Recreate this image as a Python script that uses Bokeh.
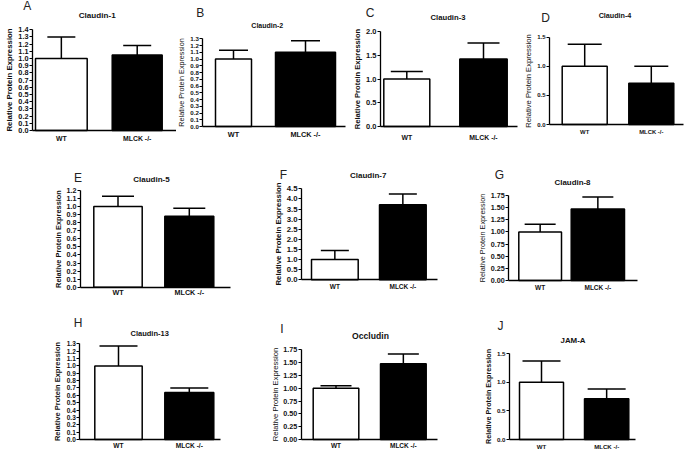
import numpy as np
from bokeh.plotting import figure
from bokeh.models import (Range1d, FixedTicker, PrintfTickFormatter, ColumnDataSource,
                          Whisker, TeeHead, Label)
from bokeh.layouts import row, column
from bokeh.embed import file_html
from bokeh.resources import INLINE

# ---------------- data ----------------
panel_letters = ["A", "B", "C", "D", "E", "F", "G", "H", "I", "J"]
proteins = ["Claudin-1", "Claudin-2", "Claudin-3", "Claudin-4", "Claudin-5",
            "Claudin-7", "Claudin-8", "Claudin-13", "Occludin", "JAM-A"]
groups = ["WT", "MLCK -/-"]
wt_mean = [1.00, 1.00, 1.00, 1.00, 1.00, 1.00, 1.00, 1.00, 1.00, 1.00]
wt_sem = [0.30, 0.13, 0.16, 0.38, 0.13, 0.45, 0.16, 0.27, 0.05, 0.37]
ko_mean = [1.05, 1.10, 1.42, 0.71, 0.88, 3.71, 1.47, 0.64, 1.48, 0.71]
ko_sem = [0.13, 0.17, 0.34, 0.29, 0.10, 0.53, 0.25, 0.06, 0.19, 0.17]
y_max = [1.4, 1.3, 2.0, 1.5, 1.2, 4.5, 1.75, 1.3, 1.75, 1.5]
y_step = [0.1, 0.1, 0.5, 0.5, 0.1, 0.5, 0.25, 0.1, 0.25, 0.5]
y_decimals = [1, 1, 1, 1, 1, 1, 2, 1, 2, 1]
y_title = "Relative Protein Expression"

# ---------------- layout (page pixel geometry of each panel) ----------------
GEOM = [
    dict(L=32, R=176, T=29.3, B=130, wt=(35, 86.7), ko=(111.7, 161.7), tx=96.7, ty=15, lx=26.7, ly=5.8, cap=28,
         tfs=8.1, yfs=7.8, ybold=True, kfs=7.3, xfs=6.9, xso=4),
    dict(L=202.3, R=345, T=38.3, B=126, wt=(215, 251), ko=(275, 335), tx=266.8, ty=25, lx=199.7, ly=12.5, cap=29,
         tfs=7.0, yfs=7.2, ybold=False, kfs=6.1, xfs=7.3, xso=3),
    dict(L=380, R=516.7, T=31, B=126, wt=(383.3, 429.3), ko=(459.3, 506.7), tx=447.5, ty=17, lx=369.7, ly=12.5, cap=32,
         tfs=7.7, yfs=7.6, ybold=True, kfs=7.5, xfs=6.9, xso=7),
    dict(L=549, R=683, T=36.7, B=124, wt=(561.7, 606.7), ko=(628.3, 673.3), tx=614.5, ty=15, lx=545, ly=17.5, cap=34,
         tfs=7.2, yfs=7.6, ybold=False, kfs=6.0, xfs=5.9, xso=4),
    dict(L=80, R=230, T=190, B=286.7, wt=(93.3, 141.7), ko=(164.3, 213.3), tx=151, ty=178.7, lx=77.5, ly=177.5, cap=32,
         tfs=8.0, yfs=7.4, ybold=True, kfs=7.2, xfs=7.2, xso=1),
    dict(L=301, R=436.7, T=188.3, B=279.3, wt=(311, 357.7), ko=(379, 425.7), tx=367.7, ty=175.3, lx=283, ly=174, cap=28,
         tfs=8.0, yfs=7.8, ybold=True, kfs=7.8, xfs=6.5, xso=3),
    dict(L=508.3, R=636.7, T=195, B=280, wt=(518.3, 561), ko=(570.7, 624), tx=572, ty=181.7, lx=499, ly=174.7, cap=31,
         tfs=7.9, yfs=7.2, ybold=False, kfs=7.2, xfs=6.5, xso=3),
    dict(L=79.3, R=220, T=343.3, B=439, wt=(94.3, 141.7), ko=(164.3, 213.3), tx=149.2, ty=333.3, lx=77.5, ly=322.8, cap=38,
         tfs=7.5, yfs=7.5, ybold=True, kfs=6.5, xfs=6.6, xso=2),
    dict(L=300.7, R=436.7, T=349.3, B=439, wt=(312.7, 358.3), ko=(380, 425.7), tx=370, ty=335.5, lx=281.5, ly=328, cap=31,
         tfs=8.6, yfs=7.6, ybold=False, kfs=7.2, xfs=6.5, xso=2),
    dict(L=509, R=635, T=353, B=439, wt=(519, 563), ko=(584, 628.3), tx=572.5, ty=340, lx=500, ly=325, cap=38,
         tfs=7.9, yfs=7.2, ybold=True, kfs=6.2, xfs=6.1, xso=3),
]

ROWS = [
    ((0, 148), [(0, 0, 176), (1, 176, 350), (2, 350, 522), (3, 522, 684)]),
    ((148, 298), [(4, 0, 272), (5, 272, 479), (6, 479, 684)]),
    ((298, 449), [(7, 0, 272), (8, 272, 479), (9, 479, 684)]),
]

FONT = "Liberation Sans"


def make_panel(i, sx0, sx1, ry0, ry1):
    g = GEOM[i]
    L, R, T, B = g["L"], g["R"], g["T"], g["B"]
    W, H = sx1 - sx0, ry1 - ry0
    c1 = sum(g["wt"]) / 2
    c2 = sum(g["ko"]) / 2
    d = c2 - c1

    def xpx(px):
        return 1 + (px - c1) / d

    s = y_max[i] / (B - T)

    def ypx(py):
        return (B - py) * s

    wt_w = (g["wt"][1] - g["wt"][0]) / d
    ko_w = (g["ko"][1] - g["ko"][0]) / d

    # the frame fills the whole figure; axes are pinned at the panel's corner
    p = figure(width=W, height=H, x_range=Range1d(xpx(sx0), xpx(sx1)),
               y_range=Range1d(ypx(ry1), ypx(ry0)),
               output_backend="svg", toolbar_location=None, title=None,
               min_border_left=0, min_border_right=0, min_border_top=0, min_border_bottom=0)
    p.outline_line_color = None
    p.xgrid.visible = False
    p.ygrid.visible = False
    p.background_fill_color = "white"
    p.border_fill_color = "white"

    src = ColumnDataSource(dict(
        x=[1, 2],
        top=[wt_mean[i], ko_mean[i]],
        upper=[wt_mean[i] + wt_sem[i], ko_mean[i] + ko_sem[i]],
        w=[wt_w, ko_w],
        fill=["white", "black"],
    ))
    p.add_layout(Whisker(base="x", lower="top", upper="upper", source=src, dimension="height",
                         line_color="black", line_width=1.5,
                         upper_head=TeeHead(size=g["cap"], line_color="black", line_width=1.5),
                         lower_head=None))
    p.vbar(x="x", top="top", bottom=0, width="w", fill_color="fill", line_color="black",
           line_width=1.5, source=src)

    # x axis
    xa = p.xaxis[0]
    xa.fixed_location = 0
    xa.bounds = (xpx(L), xpx(R))
    xa.ticker = FixedTicker(ticks=[1, 2])
    xa.major_label_overrides = {1: groups[0], 2: groups[1]}
    xa.major_tick_out = 0
    xa.major_tick_in = 0
    xa.minor_tick_out = 0
    xa.minor_tick_in = 0
    xa.axis_line_width = 1.5
    xa.axis_line_color = "black"
    xa.major_label_text_font = FONT
    xa.major_label_text_font_size = f"{g['xfs']}px"
    xa.major_label_text_font_style = "bold"
    xa.major_label_text_color = "#111111"
    xa.major_label_standoff = int(g["xso"])

    # y axis
    ya = p.yaxis[0]
    n = int(round(y_max[i] / y_step[i]))
    ya.fixed_location = xpx(L)
    ya.bounds = (0, y_max[i])
    ya.ticker = FixedTicker(ticks=[round(k * y_step[i], 4) for k in range(n + 1)])
    ya.formatter = PrintfTickFormatter(format=f"%.{y_decimals[i]}f")
    ya.major_tick_out = 3
    ya.major_tick_in = 0
    ya.minor_tick_out = 0
    ya.minor_tick_in = 0
    ya.axis_line_width = 1.3
    ya.axis_line_color = "black"
    ya.major_tick_line_width = 1.1
    ya.major_label_text_font = FONT
    ya.major_label_text_font_size = f"{g['kfs']}px"
    ya.major_label_text_font_style = "bold"
    ya.major_label_text_color = "#111111"
    ya.major_label_standoff = 1
    ya.axis_label = y_title
    ya.axis_label_text_font = FONT
    ya.axis_label_text_font_size = f"{g['yfs']}px"
    ya.axis_label_text_font_style = "bold" if g["ybold"] else "normal"
    ya.axis_label_text_color = "#111111"
    ya.axis_label_standoff = 1

    # panel title and letter
    p.add_layout(Label(x=xpx(g["tx"]), y=ypx(g["ty"]), text=proteins[i], text_font=FONT,
                       text_font_size=f"{g['tfs']}px", text_font_style="bold",
                       text_align="center", text_baseline="middle", text_color="#111111"))
    p.add_layout(Label(x=xpx(g["lx"]), y=ypx(g["ly"]), text=panel_letters[i], text_font=FONT,
                       text_font_size="12px", text_align="center", text_baseline="middle",
                       text_color="#222222"))
    return p


rows = []
for (ry0, ry1), items in ROWS:
    rows.append(row(*[make_panel(i, sx0, sx1, ry0, ry1) for i, sx0, sx1 in items]))
layout = column(*rows)

open("out.html", "w").write(file_html(layout, INLINE))
